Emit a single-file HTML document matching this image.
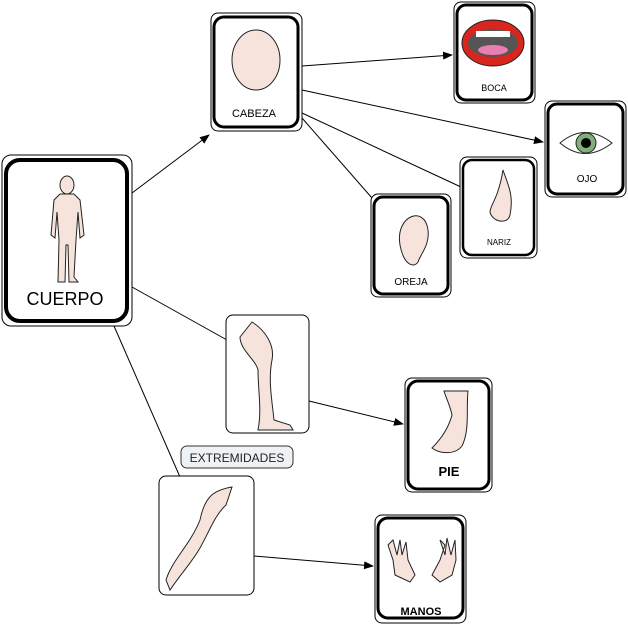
<!DOCTYPE html>
<html><head><meta charset="utf-8"><style>
html,body{margin:0;padding:0;background:#fff;width:628px;height:627px;overflow:hidden}
svg{display:block}
text{font-family:"Liberation Sans",sans-serif}
</style></head><body>
<svg width="628" height="627" viewBox="0 0 628 627" xmlns="http://www.w3.org/2000/svg">
<defs>
<marker id="a" markerWidth="10" markerHeight="8" refX="9" refY="4" orient="auto" markerUnits="userSpaceOnUse">
<path d="M0,0 L10,4 L0,8 z" fill="#000"/></marker>
</defs>
<g stroke="#000" stroke-width="1" fill="none">
<line x1="132" y1="193" x2="209" y2="135" marker-end="url(#a)"/>
<line x1="302" y1="66" x2="452" y2="55" marker-end="url(#a)"/>
<line x1="302" y1="90" x2="543" y2="142" marker-end="url(#a)"/>
<line x1="302" y1="113" x2="461" y2="187"/>
<line x1="302" y1="118" x2="372" y2="198"/>
<line x1="132" y1="287" x2="227" y2="340"/>
<line x1="309" y1="401" x2="403" y2="424" marker-end="url(#a)"/>
<line x1="114" y1="326" x2="180" y2="477"/>
<line x1="254" y1="556" x2="373" y2="566" marker-end="url(#a)"/>
</g>
<g fill="#fff" stroke="#000">
<rect x="2" y="155" width="130" height="171" rx="9" stroke-width="1"/>
<rect x="6" y="160" width="121" height="161" rx="14" stroke-width="4"/>
<rect x="211" y="13" width="91" height="118" rx="7" stroke-width="1"/>
<rect x="214" y="17" width="84" height="110" rx="10" stroke-width="3"/>
<rect x="454" y="2" width="81" height="101" rx="7" stroke-width="1"/>
<rect x="457" y="5" width="75" height="95" rx="9" stroke-width="3"/>
<rect x="545" y="101" width="81" height="96" rx="7" stroke-width="1"/>
<rect x="548" y="104" width="75" height="90" rx="9" stroke-width="3"/>
<rect x="460" y="157" width="77" height="101" rx="7" stroke-width="1"/>
<rect x="463" y="160" width="71" height="95" rx="9" stroke-width="2.5"/>
<rect x="371" y="194" width="80" height="103" rx="7" stroke-width="1"/>
<rect x="374" y="197" width="74" height="97" rx="9" stroke-width="3"/>
<rect x="226" y="315" width="83" height="118" rx="7" stroke-width="1"/>
<rect x="405" y="378" width="87" height="114" rx="7" stroke-width="1"/>
<rect x="408" y="381" width="81" height="108" rx="10" stroke-width="3"/>
<rect x="159" y="476" width="95" height="119" rx="7" stroke-width="1"/>
<rect x="375" y="515" width="91" height="108" rx="7" stroke-width="1"/>
<rect x="378" y="518" width="85" height="100" rx="10" stroke-width="3"/>
<rect x="181" y="446" width="112" height="22" rx="6" fill="#eef2f4" stroke="#333" stroke-width="1"/>
</g>
<g fill="#f6e4dc" stroke="#222" stroke-width="1">
<ellipse cx="67" cy="185" rx="7" ry="9"/>
<path d="M60,194 L74,194 L80,200 L84,235 L80,238 L78,212 L76,240 L74,277 L78,282 L69,282 L68,245 L66,245 L65,282 L58,282 L59,240 L57,212 L55,238 L51,235 L54,200 Z"/>
<ellipse cx="256" cy="60" rx="24" ry="30"/>
<path d="M400,245 C395,215 425,205 428,230 C430,245 420,255 418,262 C414,268 404,266 400,245 Z"/>
<path d="M503,170 C508,185 514,195 510,215 C508,225 492,222 490,212 C490,205 498,200 503,170 Z"/>
<path d="M240,337 L252,322 C265,330 275,345 272,360 C268,380 272,400 274,420 L290,425 L293,430 L258,430 C262,410 258,390 258,370 C256,360 240,350 240,337 Z"/>
<path d="M444,391 L468,391 C466,410 470,430 462,446 C455,455 440,454 432,448 C440,440 448,430 452,415 C450,405 446,398 444,391 Z"/>
<path d="M232,487 C215,490 205,495 200,520 C190,545 172,560 166,580 L170,590 C180,575 192,562 200,548 C210,530 215,515 226,505 Z"/>
<path d="M388,545 L393,560 L395,575 L410,582 L415,575 L408,560 L406,542 L402,555 L400,540 L397,555 L393,540 Z"/>
<path d="M445,545 L440,560 L432,575 L440,582 L452,575 L456,560 L455,540 L451,555 L447,538 L445,555 L440,540 Z"/>
</g>
<ellipse cx="493" cy="43" rx="31" ry="23" fill="#d8261f" stroke="#222"/>
<ellipse cx="493" cy="43" rx="25" ry="14" fill="#555"/>
<rect x="476" y="31" width="34" height="6" fill="#fff"/>
<ellipse cx="493" cy="50" rx="15" ry="5" fill="#e87fb0"/>
<path d="M560,143 Q585,122 612,143 Q585,164 560,143 Z" fill="#fff" stroke="#222"/>
<circle cx="586" cy="143" r="10" fill="#7fb07a" stroke="#222"/>
<circle cx="586" cy="143" r="5" fill="#000"/>
<g font-family="'Liberation Sans',sans-serif" text-anchor="middle" fill="#000">
<text x="65" y="305" font-size="18">CUERPO</text>
<text x="254" y="117" font-size="11">CABEZA</text>
<text x="494" y="91" font-size="9">BOCA</text>
<text x="587" y="182" font-size="10">OJO</text>
<text x="499" y="245" font-size="8">NARIZ</text>
<text x="411" y="285" font-size="10">OREJA</text>
<text x="449" y="476" font-size="13" font-weight="bold">PIE</text>
<text x="421" y="615" font-size="11" font-weight="bold">MANOS</text>
<text x="237" y="462" font-size="12" fill="#222">EXTREMIDADES</text>
</g>
</svg>
</body></html>
